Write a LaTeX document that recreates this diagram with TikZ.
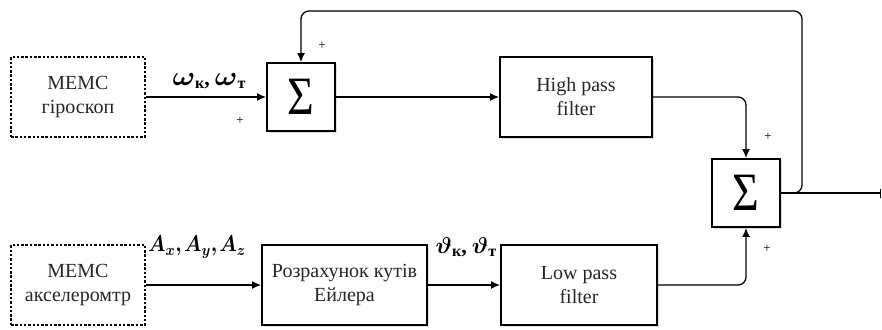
\documentclass[tikz,border=0pt]{standalone}
\usepackage{amsmath}
\usepackage{bm}
\usepackage{fontspec}
\setmainfont{Liberation Serif}
\usetikzlibrary{arrows.meta,shadows}
\newcommand{\lblsub}[1]{\raisebox{-3.5pt}{\fontsize{16}{16}\selectfont\bfseries #1}}
\newcommand{\bigsym}[3]{{\fontsize{20}{20}\selectfont\scalebox{#1}[#2]{$\bm{#3}$}}}
\newcommand{\lblcomma}{{\fontsize{22}{22}\selectfont\bfseries ,}\hspace{5pt}}
\begin{document}
\begin{tikzpicture}[x=1pt,y=-1pt,
  blk/.style={draw, fill=white, line width=1.8pt, align=center, inner sep=0pt,
    font=\fontsize{20}{24}\selectfont, text=black!85,
    drop shadow={shadow xshift=1.5pt, shadow yshift=-1.5pt, opacity=0.25}},
  dblk/.style={draw, line width=1.8pt, dash pattern=on 2.5pt off 1.8pt, align=center, inner sep=0pt,
    font=\fontsize{20}{24}\selectfont, text=black!85},
  sumblk/.style={blk, minimum width=68pt, minimum height=68pt,
    font=\fontsize{54}{54}\selectfont, text=black},
  arr/.style={line width=1.3pt, -{Latex[length=9pt,width=8pt]}},
  conn/.style={line width=1.3pt},
  lbl/.style={inner sep=0pt},
  pl/.style={font=\fontsize{13}{13}\selectfont, inner sep=0pt}]
\useasboundingbox (0,0) rectangle (882,329);

\node[dblk, minimum width=134pt, minimum height=80pt] (gyro) at (78,97) {MEMC\\гіроскоп};
\node[sumblk] (sum1) at (301,97) {\scalebox{0.85}[1]{Σ}};
\node[blk, minimum width=152pt, minimum height=80pt] (hpf) at (576,97) {High pass\\filter};
\node[sumblk] (sum2) at (746,193) {\scalebox{0.85}[1]{Σ}};
\node[dblk, minimum width=134pt, minimum height=80pt] (acc) at (78,285) {MEMC\\акселеромтр};
\node[blk, minimum width=165pt, minimum height=80pt] (euler) at (344.5,285) {Розрахунок кутів\\Ейлера};
\node[blk, minimum width=156pt, minimum height=80pt] (lpf) at (579,285) {Low pass\\filter};

\coordinate (out) at (881,193);
\coordinate (fbx) at (802,11);

\draw[arr] (gyro.east) -- (sum1.west);
\draw[arr] (sum1.east) -- (hpf.west);
\draw[arr, rounded corners=8pt] (hpf.east) -| (sum2.north);
\draw[arr, rounded corners=8pt] (lpf.east) -| (sum2.south);
\draw[arr] (acc.east) -- (euler.west);
\draw[arr] (euler.east) -- (lpf.west);
\draw[conn, -{Bar[width=9pt]}] (sum2.east) -- (out);
\draw[arr, rounded corners=8pt] (sum2.east) -| (fbx) -| (sum1.north);

\node[lbl] (lw) at (209,81) {\bigsym{1.45}{1.3}{\omega}\lblsub{к}\lblcomma\bigsym{1.45}{1.3}{\omega}\lblsub{т}};
\node[lbl] (la) at (197,247) {\scalebox{0.97}[1.1]{\fontsize{20}{20}\selectfont$\bm{A_x{,}\mkern2mu A_y{,}\mkern2mu A_z}$}};
\node[lbl] (lt) at (466,247) {\bigsym{1.15}{1.1}{\vartheta}\lblsub{к}\lblcomma\bigsym{1.15}{1.1}{\vartheta}\lblsub{т}};

\node[pl] (p1) at (240,121) {+};
\node[pl] (p2) at (322,46) {+};
\node[pl] (p3) at (768,137) {+};
\node[pl] (p4) at (767,249) {+};
\end{tikzpicture}
\end{document}
